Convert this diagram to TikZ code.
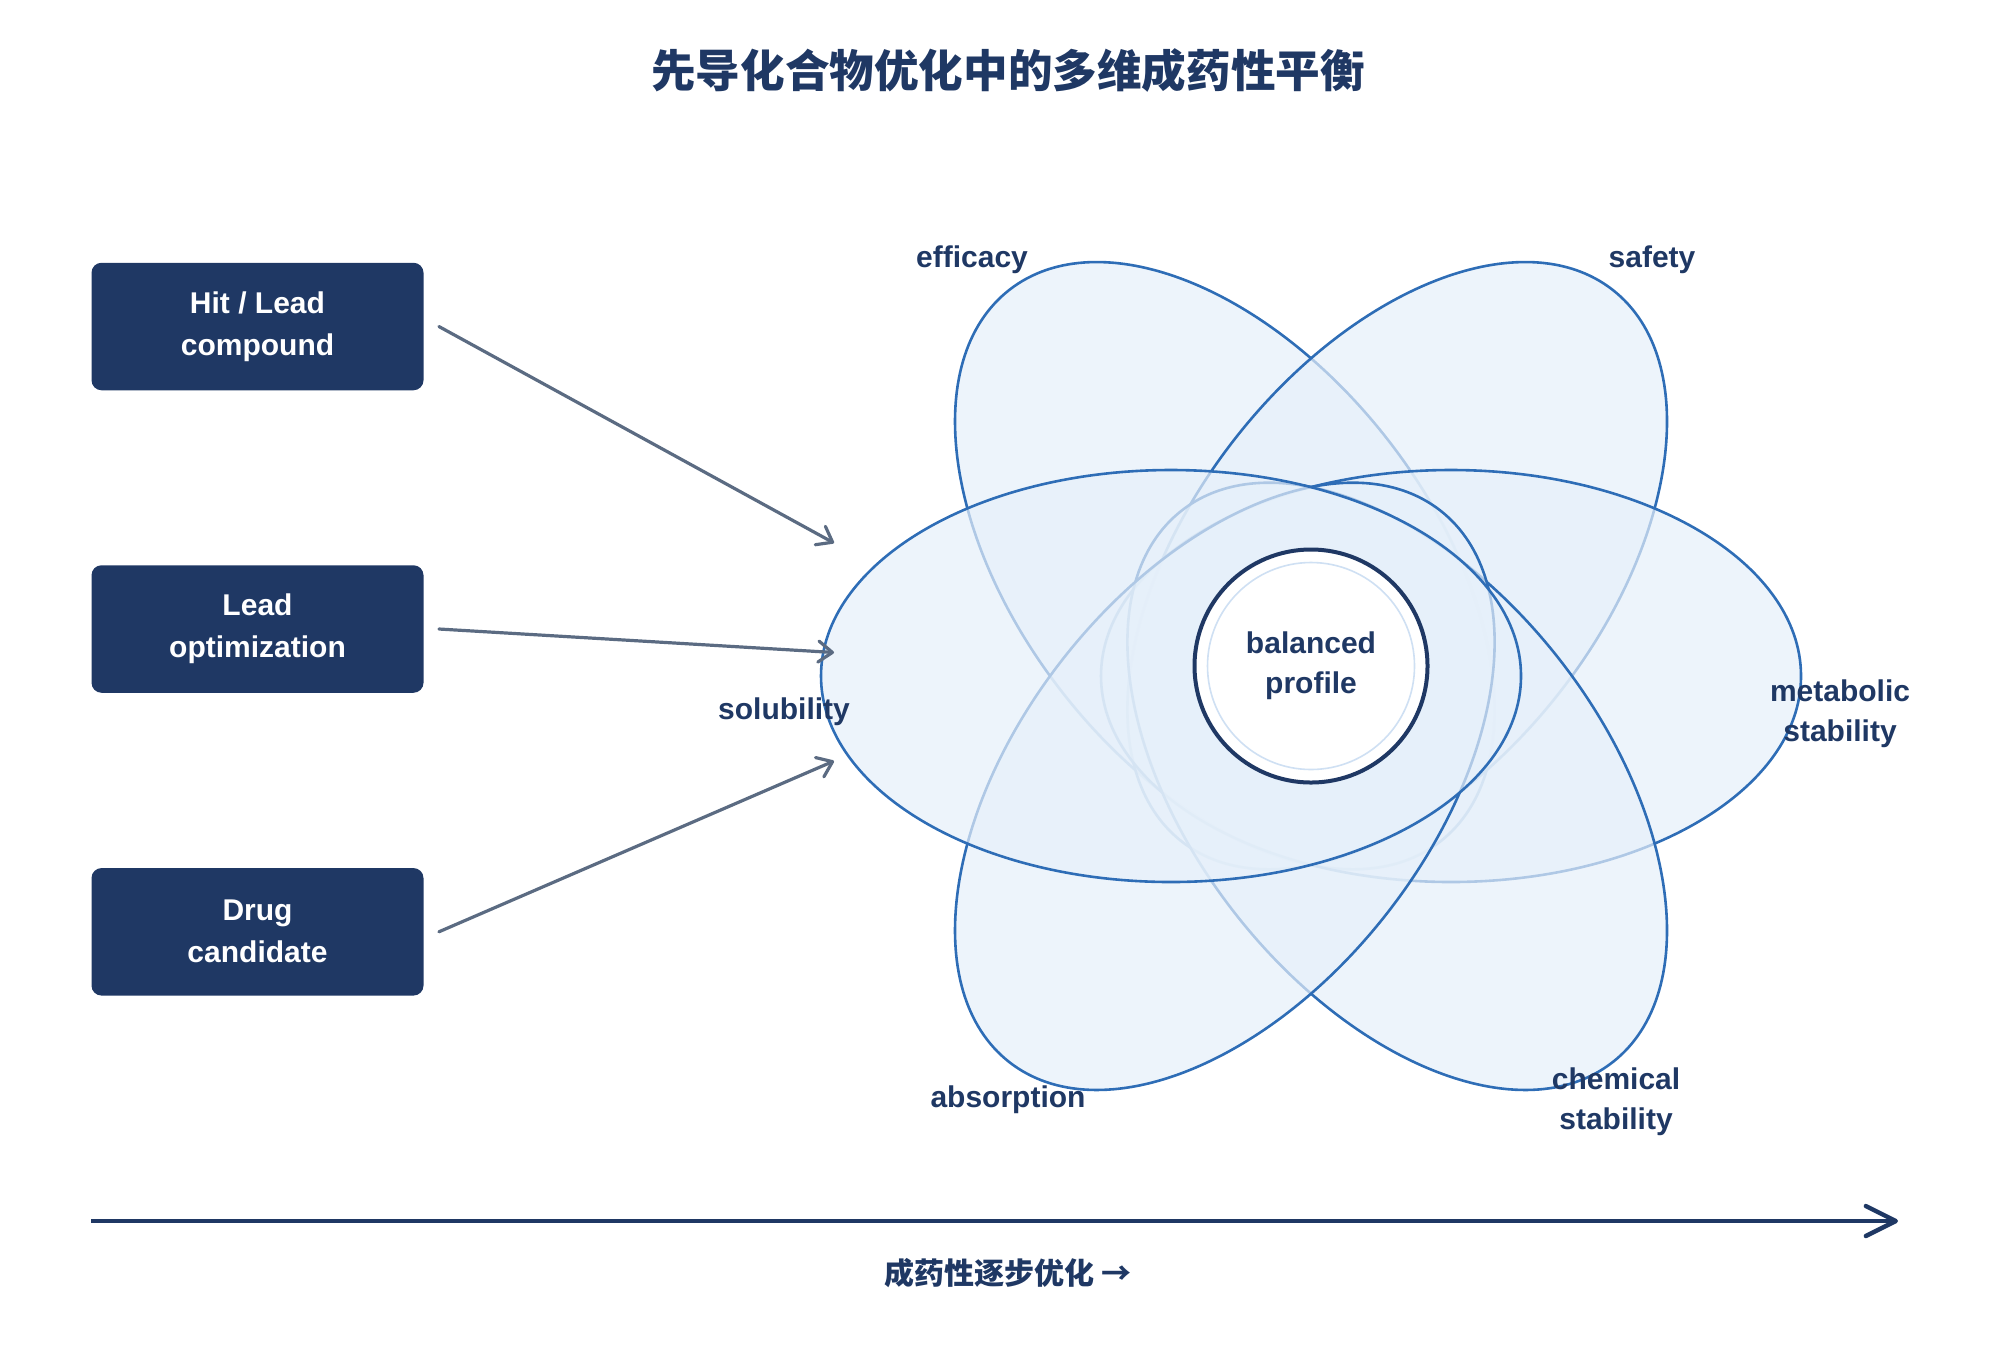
\documentclass[tikz,border=0pt]{standalone}
\usepackage{fontspec}
\setmainfont{Liberation Sans}
\newfontfamily\cjk{Noto Sans CJK SC}
\usetikzlibrary{arrows.meta,calc}
\definecolor{navy}{HTML}{1F3864}
\definecolor{petalline}{HTML}{2E6DB6}
\definecolor{petalfill}{HTML}{E6F0FA}
\definecolor{arrowgray}{HTML}{5B6B82}
\definecolor{innerring}{HTML}{CFE0F3}
\begin{document}
\begin{tikzpicture}[x=0.5pt,y=0.5pt,
  stagebox/.style={fill=navy, rounded corners=5pt, minimum width=166pt, minimum height=63.75pt,
    text=white, font=\fontsize{15}{21}\selectfont\bfseries, align=center, inner sep=0pt},
  petal/.style={draw=petalline, line width=1.3pt, fill=petalfill, fill opacity=0.7},
  lbl/.style={text=navy, font=\fontsize{15}{20}\selectfont\bfseries, align=center, inner sep=0pt},
  flow/.style={draw=arrowgray, line width=1.6pt, line cap=round,
    -{Straight Barb[length=7pt,width=10.5pt,line width=1.6pt,round]}},
  axisline/.style={draw=navy, line width=2.2pt,
    -{Straight Barb[length=15pt,width=15pt,line width=2.2pt,round]}},
]
\useasboundingbox (0,0) rectangle (2000,-1350);

% title
\node[text=navy, font=\cjk\fontsize{22.3}{26}\selectfont\bfseries] (title) at (1008,-71) {先导化合物优化中的多维成药性平衡};

% stage boxes
\node[stagebox] (hit) at (257.5,-326.5) {Hit / Lead\\compound};
\node[stagebox] (lead) at (257.5,-629) {Lead\\optimization};
\node[stagebox] (drug) at (257.5,-931.8) {Drug\\candidate};

% petals
\foreach \ang in {128,52,0,-52,-128,180}{
  \begin{scope}[shift={(1311,-676)}, rotate=\ang]
    \draw[petal] (140,0) ellipse (350 and 206);
  \end{scope}
}

% core
\node[circle, draw=navy, line width=2pt, fill=white, minimum size=116.5pt, inner sep=0pt] (core) at (1311,-666) {};
\draw[innerring, line width=0.8pt] (core.center) circle (103.5);
\node[lbl] (corelbl) at (core.center) {balanced\\profile};

% labels
\node[lbl] (leff) at (972,-260) {efficacy};
\node[lbl] (lsaf) at (1652,-260) {safety};
\node[lbl] (lmet) at (1840,-714) {metabolic\\stability};
\node[lbl] (lchem) at (1616,-1102) {chemical\\stability};
\node[lbl] (labs) at (1008,-1100) {absorption};
\node[lbl] (lsol) at (784,-712) {solubility};

% flow arrows
\coordinate (a1) at (834,-543);
\coordinate (a2) at (834,-652.5);
\coordinate (a3) at (834,-761);
\draw[flow] ([xshift=7.5pt]hit.east) -- (a1);
\draw[flow] ([xshift=7.5pt]lead.east) -- (a2);
\draw[flow] ([xshift=7.5pt]drug.east) -- (a3);

% axis
\coordinate (axs) at (91,-1221);
\coordinate (axe) at (1898,-1221);
\draw[axisline] (axs) -- (axe);
\node[text=navy, font=\cjk\fontsize{15}{18}\selectfont\bfseries] (axlbl) at (1008,-1273) {成药性逐步优化 →};
\end{tikzpicture}
\end{document}
